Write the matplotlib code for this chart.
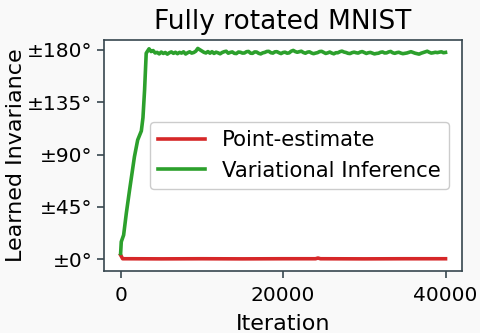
import matplotlib
matplotlib.use("Agg")
import matplotlib.pyplot as plt

# learned invariance (degrees) over training iterations
vi_iters = [0, 80, 370, 700, 1100, 1700, 2100, 2550, 2750, 2950, 3150, 3500]
vi_values = [4.9, 14.9, 20.7, 39.4, 59.4, 88.1, 102.5, 110.3, 121.7, 145.6, 177.2, 181.0]

plateau_iters = list(range(3750, 40001, 250))
plateau_values = [
    178.6, 179.5, 177.4, 177.9, 176.6, 178.2, 177.0, 177.8, 176.4, 177.6,
    178.3, 177.1, 178.0, 176.8, 177.9, 177.3, 178.4, 176.5, 177.6, 178.4,
    177.3, 177.8, 178.9, 181.3, 180.2, 179.2, 178.0, 177.4, 178.6, 177.2,
    178.5, 177.0, 178.1, 177.5, 176.7, 177.8, 178.5, 178.9, 177.2, 177.9,
    178.3, 177.1, 176.9, 178.2, 178.0, 177.3, 177.4, 178.5, 178.7, 177.2,
    177.1, 178.3, 178.2, 177.1, 176.6, 177.5, 177.9, 178.7, 178.8, 177.6,
    177.3, 178.4, 178.5, 177.6, 176.9, 177.8, 178.1, 177.2, 177.5, 178.9,
    179.6, 178.6, 178.0, 178.5, 178.9, 177.8, 177.2, 178.1, 178.4, 177.4,
    176.8, 177.3, 177.7, 178.6, 178.8, 177.9, 177.0, 177.5, 178.2, 177.3,
    176.7, 177.6, 177.6, 178.5, 179.0, 178.2, 177.8, 177.1, 176.9, 177.7,
    178.1, 177.6, 177.3, 178.2, 178.6, 177.8, 177.0, 177.6, 177.9, 177.2,
    176.6, 177.0, 177.2, 178.0, 178.3, 177.4, 177.5, 178.3, 178.7, 177.6,
    177.1, 177.7, 178.0, 177.3, 176.8, 177.1, 177.4, 178.0, 178.5, 177.8,
    177.2, 176.8, 176.4, 177.2, 177.8, 178.5, 178.9, 178.0, 177.3, 177.6,
    178.0, 177.7, 178.1, 178.4, 177.6, 177.9,
]

pe_iters = [0, 250, 1000, 5000, 10000, 15000, 20000, 24000, 24300, 24600, 30000, 35000, 40000]
pe_values = [3.5, 0.3, 0.3, 0.2, 0.3, 0.2, 0.3, 0.3, 0.9, 0.3, 0.2, 0.3, 0.3]

yticks = [0, 45, 90, 135, 180]
xticks = [0, 20000, 40000]

spine = "#37474f"
plt.rcParams["font.family"] = "DejaVu Sans"

fig = plt.figure(figsize=(4.81, 3.33), dpi=100, facecolor="#f9f9f9")
ax = fig.add_axes([0.217, 0.186, 0.743, 0.694])
ax.set_facecolor("white")

ax.plot(pe_iters, pe_values, color="#d62728", lw=2.6, label="Point-estimate")
ax.plot(vi_iters + plateau_iters, vi_values + plateau_values,
        color="#2ca02c", lw=2.6, label="Variational Inference")

ax.set_xlim(-2000, 42000)
ax.set_ylim(-10.3, 188.6)
ax.set_xticks(xticks)
ax.set_yticks(yticks)
ax.set_yticklabels([f"±{t}°" for t in yticks])
ax.tick_params(labelsize=14.5, color=spine, length=5, width=1.2)
ax.tick_params(axis="x", pad=6)
for s in ax.spines.values():
    s.set_color(spine)
    s.set_linewidth(1.2)

ax.set_xlabel("Iteration", fontsize=16, labelpad=6)
ax.set_ylabel("Learned Invariance", fontsize=16, labelpad=1)
ax.set_title("Fully rotated MNIST", fontsize=19, pad=8)

ax.legend(loc="center right", fontsize=15.3, frameon=True, framealpha=1,
          edgecolor="#cccccc", handlelength=2.2, borderaxespad=0.6)

fig.savefig("out.png", dpi=100, facecolor=fig.get_facecolor())
